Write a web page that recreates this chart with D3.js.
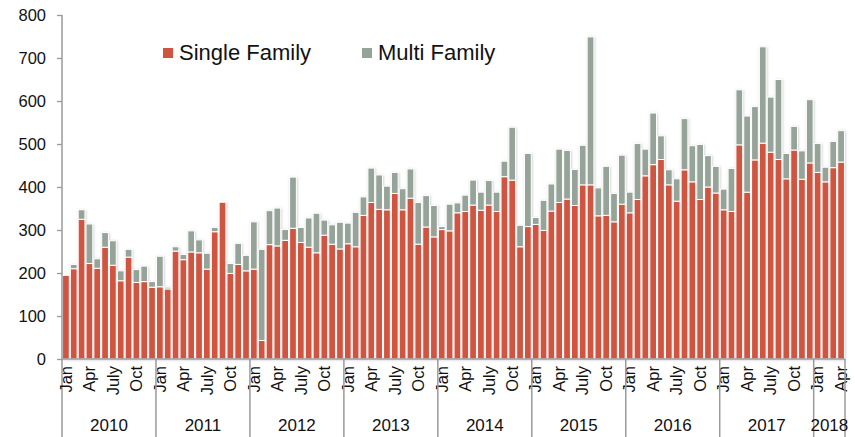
<!DOCTYPE html>
<html>
<head>
<meta charset="utf-8">
<script src="https://cdn.jsdelivr.net/npm/d3@7"></script>
<style>
  html, body { margin: 0; padding: 0; background: #fff; }
  svg { display: block; font-family: "Liberation Sans", Arial, sans-serif; }
</style>
</head>
<body>
<svg id="chart" width="855" height="437"></svg>
<script>
// Monthly housing starts, Jan 2010 – Apr 2018
const years = ["2010", "2011", "2012", "2013", "2014", "2015", "2016", "2017", "2018"];
const monthNames = ["Jan", "Feb", "Mar", "Apr", "May", "Jun", "July", "Aug", "Sep", "Oct", "Nov", "Dec"];
const shownMonths = ["Jan", "Apr", "July", "Oct"];

const singleFamily = [
  195, 210, 325, 222, 211, 260, 218, 182, 237, 178, 180, 167,
  168, 163, 251, 231, 249, 247, 209, 296, 365, 199, 220, 205,
  209, 43, 266, 263, 276, 304, 271, 260, 247, 288, 267, 256,
  268, 261, 334, 364, 348, 347, 385, 347, 374, 267, 307, 284,
  301, 298, 340, 343, 358, 346, 358, 343, 424, 416, 261, 308,
  313, 299, 344, 364, 372, 357, 405, 405, 333, 334, 319, 360,
  340, 371, 426, 452, 464, 405, 367, 440, 412, 371, 400, 386,
  347, 343, 498, 388, 463, 502, 481, 464, 419, 486, 418, 456,
  434, 412, 445, 458
];
const multiFamily = [
  2, 10, 22, 92, 22, 34, 57, 23, 18, 30, 36, 13,
  71, 4, 10, 12, 49, 30, 37, 10, 2, 23, 49, 36,
  110, 212, 79, 88, 25, 119, 35, 68, 92, 35, 45, 62,
  48, 80, 43, 80, 80, 55, 49, 49, 68, 97, 73, 73,
  7, 62, 23, 38, 58, 42, 57, 45, 36, 123, 50, 170,
  16, 70, 63, 124, 113, 84, 92, 344, 65, 114, 66, 114,
  48, 130, 62, 120, 55, 35, 52, 119, 84, 128, 73, 62,
  48, 100, 128, 177, 124, 224, 128, 186, 59, 55, 66, 147,
  67, 34, 61, 73
];
const yTicks = [0, 100, 200, 300, 400, 500, 600, 700, 800];
const seriesNames = ["Single Family", "Multi Family"];
const seriesColors = ["#d05541", "#95a399"];

const rows = singleFamily.map((sf, i) => ({
  idx: i,
  year: years[Math.floor(i / 12)],
  month: monthNames[i % 12],
  sf: sf,
  mf: multiFamily[i]
}));

const svg = d3.select("#chart");
const plotLeft = 62, plotRight = 845, plotTop = 15, plotBottom = 359, axisEnd = 437;

const x = d3.scaleBand()
  .domain(rows.map(d => d.idx))
  .range([plotLeft, plotRight])
  .paddingInner(0.14)
  .paddingOuter(0.07);
const step = x.step();
const y = d3.scaleLinear().domain([0, 800]).range([plotBottom, plotTop]);

// soft shadow around bars
const defs = svg.append("defs");
const f = defs.append("filter").attr("id", "glow")
  .attr("x", "-50%").attr("y", "-10%").attr("width", "200%").attr("height", "120%");
f.append("feDropShadow").attr("dx", 0.6).attr("dy", 0.6)
  .attr("stdDeviation", 1.1).attr("flood-color", "#888").attr("flood-opacity", 0.45);

const stack = d3.stack().keys(["sf", "mf"])(rows);

const barsG = svg.append("g").attr("filter", "url(#glow)");
stack.forEach((layer, li) => {
  barsG.append("g")
    .selectAll("rect")
    .data(layer)
    .join("rect")
    .attr("x", d => x(d.data.idx))
    .attr("width", x.bandwidth())
    .attr("y", d => y(d[1]))
    .attr("height", d => Math.max(0, y(d[0]) - y(d[1])))
    .attr("fill", seriesColors[li])
    .attr("stroke", "#fff")
    .attr("stroke-width", 1);
});

// y axis
const yAxis = d3.axisLeft(y).tickValues(yTicks).tickSize(5).tickPadding(11);
const yG = svg.append("g").attr("transform", `translate(${plotLeft},0)`).call(yAxis);
yG.select(".domain").remove();
yG.selectAll(".tick line").attr("stroke", "#999").attr("stroke-width", 1.3);
yG.selectAll(".tick text")
  .attr("fill", "#111")
  .style("font-size", "16.5px")
  .style("font-family", "'Liberation Sans', Arial, sans-serif");

const axisColor = "#9a9a9a";
svg.append("line")
  .attr("x1", plotLeft).attr("x2", plotLeft).attr("y1", plotTop).attr("y2", axisEnd)
  .attr("stroke", axisColor).attr("stroke-width", 1.5);
svg.append("line")
  .attr("x1", plotLeft).attr("x2", plotRight).attr("y1", plotBottom).attr("y2", plotBottom)
  .attr("stroke", axisColor).attr("stroke-width", 1.5);

// month labels (rotated)
const xAxis = d3.axisBottom(x)
  .tickValues(rows.filter(d => shownMonths.includes(d.month)).map(d => d.idx))
  .tickSize(0)
  .tickFormat(i => rows[i].month);
const xG = svg.append("g").attr("transform", `translate(0,${plotBottom})`).call(xAxis);
xG.select(".domain").remove();
xG.selectAll(".tick text")
  .attr("transform", "rotate(-90)")
  .attr("x", -7)
  .attr("y", 0)
  .attr("dy", "0.35em")
  .attr("text-anchor", "end")
  .attr("fill", "#111")
  .style("font-size", "16.5px")
  .style("font-family", "'Liberation Sans', Arial, sans-serif");

// year separators and labels
const yearInfo = years.map(yr => {
  const members = rows.filter(d => d.year === yr);
  const x0 = plotLeft + members[0].idx * step;
  const x1 = plotLeft + (members[members.length - 1].idx + 1) * step;
  return { yr, x0, x1 };
});
svg.append("g").selectAll("line")
  .data(yearInfo)
  .join("line")
  .attr("x1", d => d.x1).attr("x2", d => d.x1)
  .attr("y1", plotBottom).attr("y2", axisEnd)
  .attr("stroke", axisColor).attr("stroke-width", 1.5);
svg.append("g").selectAll("text")
  .data(yearInfo)
  .join("text")
  .attr("x", d => (d.x0 + d.x1) / 2)
  .attr("y", 431)
  .attr("text-anchor", "middle")
  .attr("fill", "#111")
  .style("font-size", "17px")
  .text(d => d.yr);

// legend
const legendX = [163, 362];
const lg = svg.append("g");
seriesNames.forEach((name, i) => {
  lg.append("rect")
    .attr("x", legendX[i]).attr("y", 48)
    .attr("width", 10).attr("height", 10)
    .attr("fill", seriesColors[i]);
  lg.append("text")
    .attr("x", legendX[i] + 16).attr("y", 60)
    .attr("fill", "#111")
    .style("font-size", "22px")
    .text(name);
});
</script>
</body>
</html>
